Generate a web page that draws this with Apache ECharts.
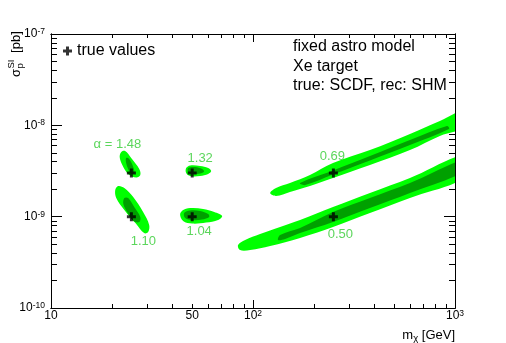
<!DOCTYPE html>
<html>
<head>
<meta charset="utf-8">
<script src="https://cdn.jsdelivr.net/npm/echarts@6/dist/echarts.min.js"></script>
<style>
  html, body { margin: 0; padding: 0; background: #fff; }
  #chart { width: 506px; height: 343px; }
</style>
</head>
<body>
<div id="chart"></div>
<script>
// true values (mass in GeV, SI cross section in pb) and fitted alpha
const trueMass = [25, 25, 50, 50, 250, 250]
const trueSigma = [3e-9, 1e-9, 3e-9, 1e-9, 3e-9, 1e-9]
const alphaValues = ['1.48', '1.10', '1.32', '1.04', '0.69', '0.50']

// contour outlines, [log10 m, log10 sigma]
const outer148 = [[1.348,-8.292],[1.367,-8.281],[1.397,-8.358],[1.437,-8.479],[1.442,-8.544],[1.422,-8.572],[1.382,-8.533],[1.353,-8.435],[1.340,-8.347]]
const inner148 = [[1.372,-8.358],[1.387,-8.369],[1.407,-8.457],[1.412,-8.522],[1.397,-8.533],[1.382,-8.479],[1.372,-8.413]]
const outer110 = [[1.333,-8.665],[1.363,-8.687],[1.407,-8.785],[1.456,-8.950],[1.486,-9.092],[1.481,-9.169],[1.461,-9.180],[1.422,-9.081],[1.363,-8.928],[1.323,-8.796],[1.318,-8.709]]
const inner110 = [[1.363,-8.796],[1.382,-8.796],[1.412,-8.895],[1.442,-9.004],[1.437,-9.059],[1.407,-9.048],[1.377,-8.950],[1.358,-8.862]]
const outer132 = [[1.669,-8.468],[1.689,-8.440],[1.738,-8.446],[1.778,-8.468],[1.793,-8.501],[1.778,-8.533],[1.738,-8.555],[1.689,-8.555],[1.669,-8.522]]
const inner132 = [[1.679,-8.468],[1.714,-8.457],[1.748,-8.479],[1.758,-8.506],[1.738,-8.528],[1.699,-8.533],[1.679,-8.512]]
const outer104 = [[1.639,-8.972],[1.659,-8.922],[1.699,-8.906],[1.753,-8.917],[1.808,-8.950],[1.847,-8.993],[1.827,-9.037],[1.768,-9.065],[1.699,-9.076],[1.654,-9.048]]
const inner104 = [[1.659,-8.961],[1.689,-8.933],[1.738,-8.939],[1.778,-8.972],[1.783,-9.004],[1.748,-9.032],[1.699,-9.037],[1.664,-9.015]]
const outer069 = [[2.085,-8.742],[2.114,-8.687],[2.183,-8.632],[2.282,-8.544],[2.396,-8.413],[2.579,-8.271],[2.777,-8.095],[2.925,-7.953],[3.060,-7.830],[3.060,-8.005],[2.925,-8.117],[2.777,-8.271],[2.579,-8.435],[2.396,-8.577],[2.282,-8.665],[2.183,-8.731],[2.114,-8.774]]
const inner069 = [[2.233,-8.632],[2.396,-8.495],[2.579,-8.336],[2.777,-8.161],[2.960,-8.008],[2.970,-8.041],[2.777,-8.216],[2.579,-8.386],[2.396,-8.539],[2.258,-8.654]]
const outer050 = [[1.926,-9.311],[1.961,-9.256],[2.035,-9.191],[2.134,-9.114],[2.233,-9.037],[2.396,-8.895],[2.579,-8.742],[2.777,-8.577],[3.060,-8.320],[3.060,-8.555],[2.777,-8.796],[2.579,-8.961],[2.396,-9.114],[2.233,-9.234],[2.085,-9.322],[1.986,-9.366],[1.936,-9.366]]
const inner050 = [[2.134,-9.202],[2.233,-9.125],[2.396,-8.950],[2.579,-8.796],[2.777,-8.632],[3.060,-8.365],[3.060,-8.490],[2.777,-8.742],[2.579,-8.906],[2.396,-9.059],[2.233,-9.180],[2.159,-9.245],[2.124,-9.256]]

// axis ticks and labels
const xMajorTicks = [10, 100, 1000]
const xMinorTicks = [20, 30, 40, 50, 60, 70, 80, 90, 200, 300, 400, 500, 600, 700, 800, 900]
const xLabelValues = [10, 50, 100, 1000]
const xLabelTexts = ['10', '50', '10^2', '10^3']
const yMajorTicks = [1e-10, 1e-9, 1e-8, 1e-7]
const yMinorTicks = [2e-10, 3e-10, 4e-10, 5e-10, 6e-10, 7e-10, 8e-10, 9e-10,
  2e-9, 3e-9, 4e-9, 5e-9, 6e-9, 7e-9, 8e-9, 9e-9,
  2e-8, 3e-8, 4e-8, 5e-8, 6e-8, 7e-8, 8e-8, 9e-8]
const yLabelValues = [1e-10, 1e-9, 1e-8, 1e-7]
const yLabelTexts = ['10^-10', '10^-9', '10^-8', '10^-7']

const FONT = 'Liberation Sans, Arial, Helvetica, sans-serif'
const LIGHT = '#00ff00'
const DARK = '#00a000'
const LABEL_GREEN = '#33cc33'
const CROSS = 'path://M3,0H6V3H9V6H6V9H3V6H0V3H3Z'

const contourShapes = [outer148, inner148, outer110, inner110, outer132, inner132,
  outer104, inner104, outer069, inner069, outer050, inner050]
const labelOffsets = [[-14, -29], [12, 25], [8, -15], [7, 15], [-1, -17], [7, 18]]

const lg = v => +Math.log10(v).toFixed(6)

const toRich = t => {
  const parts = t.split('^')
  return parts.length > 1 ? '{b|' + parts[0] + '}{s|' + parts[1] + '}' : '{b|' + t + '}'
}
const pickLabel = (values, texts) => v => {
  let best = 0
  values.forEach((lv, i) => {
    if (Math.abs(lg(lv) - v) < Math.abs(lg(values[best]) - v)) best = i
  })
  return toRich(texts[best])
}
const labelRich = {
  b: { fontSize: 12, fontFamily: FONT, color: '#000', lineHeight: 14 },
  s: { fontSize: 8.5, fontFamily: FONT, color: '#000', verticalAlign: 'top', lineHeight: 9 }
}

function axisDef(type, pos, ticks, len, label) {
  const isX = type === 'x'
  return {
    type: 'value',
    min: isX ? 1 : -10,
    max: isX ? 3 : -7,
    position: pos,
    axisLine: { show: true, onZero: false, lineStyle: { color: '#000', width: 1 } },
    splitLine: { show: false },
    axisTick: { show: true, inside: true, length: len, customValues: ticks.map(lg), lineStyle: { color: '#000', width: 1 } },
    axisLabel: label || { show: false }
  }
}

const chart = echarts.init(document.getElementById('chart'), null, { renderer: 'canvas' })

chart.setOption({
  animation: false,
  backgroundColor: '#fff',
  grid: { left: 51, right: 51, top: 34, bottom: 35, containLabel: false, outerBoundsMode: 'none' },
  xAxis: [
    axisDef('x', 'bottom', xMajorTicks, 8, {
      show: true, margin: 1, customValues: xLabelValues.map(lg),
      formatter: pickLabel(xLabelValues, xLabelTexts), rich: labelRich
    }),
    axisDef('x', 'bottom', xMinorTicks, 4),
    axisDef('x', 'top', xMajorTicks, 8),
    axisDef('x', 'top', xMinorTicks, 4)
  ],
  yAxis: [
    axisDef('y', 'left', yMajorTicks, 11, {
      show: true, margin: 6, customValues: yLabelValues.map(lg),
      formatter: pickLabel(yLabelValues, yLabelTexts), rich: labelRich
    }),
    axisDef('y', 'left', yMinorTicks, 6),
    axisDef('y', 'right', yMajorTicks, 11),
    axisDef('y', 'right', yMinorTicks, 6)
  ],
  legend: {
    data: ['true values'],
    left: 63, top: 43, padding: 0,
    itemWidth: 9, itemHeight: 9,
    icon: CROSS,
    selectedMode: false,
    textStyle: { fontSize: 16, fontFamily: FONT, color: '#000' }
  },
  graphic: [
    {
      type: 'text', left: 293, top: 37,
      style: {
        text: 'fixed astro model\nXe target\ntrue: SCDF, rec: SHM',
        font: '16px ' + FONT, lineHeight: 19.5, fill: '#000'
      }
    },
    {
      type: 'text', x: 455, y: 335,
      style: {
        text: '{n|m}{sub|χ}{n| [GeV]}',
        align: 'right', verticalAlign: 'middle',
        rich: {
          n: { fontSize: 13, fontFamily: FONT, color: '#000', lineHeight: 16 },
          sub: { fontSize: 9.5, fontFamily: FONT, color: '#000', verticalAlign: 'bottom', lineHeight: 10 }
        }
      }
    },
    {
      type: 'group', x: 16, y: 77, rotation: Math.PI / 2,
      children: [
        { type: 'text', x: 0, y: 0, style: { text: 'σ', font: '13px ' + FONT, fill: '#000', verticalAlign: 'middle' } },
        { type: 'text', x: 8.5, y: 4, style: { text: 'p', font: '9.5px ' + FONT, fill: '#000', verticalAlign: 'middle' } },
        { type: 'text', x: 8.5, y: -5, style: { text: 'SI', font: '9.5px ' + FONT, fill: '#000', verticalAlign: 'middle' } },
        { type: 'text', x: 20.5, y: 0, style: { text: ' [pb]', font: '13px ' + FONT, fill: '#000', verticalAlign: 'middle' } }
      ]
    }
  ],
  series: [
    {
      type: 'custom',
      name: 'contours',
      clip: true,
      xAxisIndex: 0,
      yAxisIndex: 0,
      data: contourShapes.map(s => s[0]),
      renderItem: (params, api) => {
        const pts = contourShapes[params.dataIndex].map(p => api.coord(p))
        return {
          type: 'polygon',
          shape: { points: pts, smooth: 0.35 },
          style: { fill: params.dataIndex % 2 === 0 ? LIGHT : DARK }
        }
      },
      z: 2
    },
    {
      type: 'scatter',
      name: 'true values',
      symbol: CROSS,
      symbolSize: 9,
      itemStyle: { color: '#000' },
      data: trueMass.map((m, i) => ({
        value: [lg(m), lg(trueSigma[i])],
        label: { offset: labelOffsets[i] }
      })),
      label: {
        show: true,
        position: 'inside',
        color: LABEL_GREEN,
        fontSize: 13,
        fontFamily: FONT,
        formatter: p => (p.dataIndex === 0 ? 'α = ' : '') + alphaValues[p.dataIndex]
      },
      emphasis: { disabled: true },
      z: 5
    }
  ]
})
</script>
</body>
</html>
